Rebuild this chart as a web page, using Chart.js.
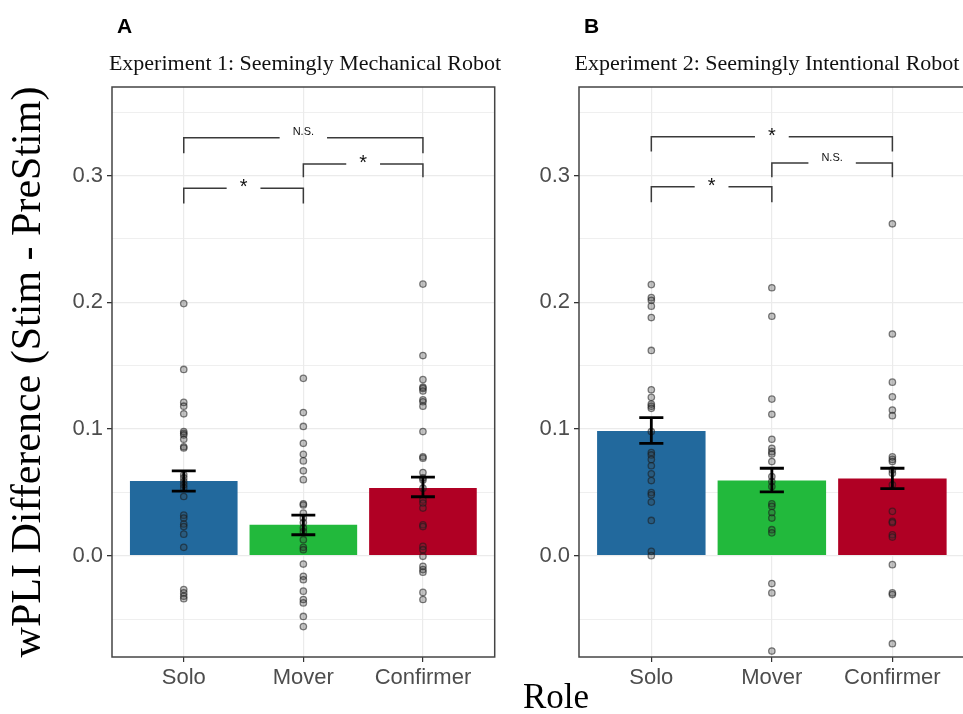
<!DOCTYPE html>
<html>
<head>
<meta charset="utf-8">
<script src="https://cdn.jsdelivr.net/npm/chart.js@4.4.0/dist/chart.umd.min.js"></script>
<style>
body{margin:0;background:#fff;width:963px;height:714px;overflow:hidden;position:relative;font-family:'Liberation Sans',Arial,sans-serif;}
canvas{position:absolute;top:0;}
#c1{left:0;}
#c2{left:500px;}
.tag{position:absolute;top:15px;font-weight:bold;font-size:21px;line-height:21px;color:#000;}
.ptitle{position:absolute;top:52px;font-family:'Liberation Serif','Times New Roman',serif;font-size:22px;line-height:22px;color:#111;text-align:center;white-space:nowrap;}
#role{position:absolute;left:456px;width:200px;top:679px;text-align:center;font-family:'Liberation Serif','Times New Roman',serif;font-size:35px;line-height:35px;color:#000;}
</style>
</head>
<body>
<canvas id="c1" width="500" height="714"></canvas>
<canvas id="c2" width="470" height="714"></canvas>
<div class="tag" style="left:117px">A</div>
<div class="tag" style="left:584px">B</div>
<div class="ptitle" style="left:105px;width:400px">Experiment 1: Seemingly Mechanical Robot</div>
<div class="ptitle" style="left:567px;width:400px">Experiment 2: Seemingly Intentional Robot</div>
<div id="role">Role</div>
<script>
var roles = ['Solo', 'Mover', 'Confirmer'];
var yTickValues = [-0.05, 0, 0.05, 0.1, 0.15, 0.2, 0.25, 0.3, 0.35];
var barColors = ['#22699d', '#22b93c', '#b00024'];

// Experiment 1
var exp1Means = [0.059, 0.0245, 0.0535];
var exp1Low = [0.051, 0.0165, 0.0465];
var exp1High = [0.067, 0.032, 0.062];
var exp1Solo = [0.199, 0.147, 0.121, 0.118, 0.112, 0.098, 0.0966, 0.0953, 0.0919, 0.086, 0.085, 0.0638, 0.0614, 0.0585, 0.056, 0.0535, 0.0467, 0.032, 0.0297, 0.025, 0.023, 0.017, 0.0066, -0.0268, -0.0294, -0.032, -0.034];
var exp1Mover = [0.140, 0.113, 0.102, 0.0887, 0.080, 0.0748, 0.067, 0.060, 0.041, 0.040, 0.0336, 0.0297, 0.0262, 0.0218, 0.019, 0.0126, 0.0066, 0.0047, -0.0066, -0.0163, -0.019, -0.028, -0.0346, -0.0373, -0.048, -0.056];
var exp1Confirmer = [0.2144, 0.158, 0.139, 0.133, 0.132, 0.130, 0.123, 0.1215, 0.118, 0.098, 0.078, 0.077, 0.0656, 0.0614, 0.0598, 0.0533, 0.044, 0.0415, 0.0376, 0.0244, 0.023, 0.0073, 0.0047, -0.0005, -0.0084, -0.011, -0.013, -0.029, -0.0346];
var exp1BracketFrom = [1, 2, 1];
var exp1BracketTo = [2, 3, 3];
var exp1BracketY = [0.290, 0.3092, 0.330];
var exp1BracketTip = [0.278, 0.2987, 0.3176];
var exp1BracketText = ['*', '*', 'N.S.'];

// Experiment 2
var exp2Means = [0.0985, 0.0593, 0.061];
var exp2Low = [0.0887, 0.0504, 0.053];
var exp2High = [0.109, 0.069, 0.069];
var exp2Solo = [0.214, 0.2037, 0.2016, 0.197, 0.188, 0.162, 0.131, 0.125, 0.1197, 0.118, 0.1163, 0.098, 0.0814, 0.0795, 0.076, 0.071, 0.0646, 0.0593, 0.0498, 0.048, 0.0423, 0.0278, 0.0034, 0.0];
var exp2Mover = [0.2115, 0.189, 0.1236, 0.1116, 0.0919, 0.0848, 0.0821, 0.0803, 0.0743, 0.0625, 0.0585, 0.0546, 0.041, 0.039, 0.034, 0.0297, 0.0205, 0.018, -0.022, -0.0294, -0.0753];
var exp2Confirmer = [0.262, 0.175, 0.137, 0.1254, 0.115, 0.1105, 0.078, 0.076, 0.0743, 0.0677, 0.065, 0.056, 0.035, 0.027, 0.026, 0.0165, 0.0147, -0.0071, -0.0294, -0.0307, -0.0695];
var exp2BracketFrom = [1, 2, 1];
var exp2BracketTo = [2, 3, 3];
var exp2BracketY = [0.2913, 0.310, 0.3307];
var exp2BracketTip = [0.279, 0.2987, 0.319];
var exp2BracketText = ['*', 'N.S.', '*'];

function isMajor(v) {
    return Math.abs(Math.round(v * 100)) % 10 === 0;
}

//error bars, significance brackets and panel border
function makeExtras(low, high, from, to, ys, tips, texts) {
    return {
        id: 'extras',
        afterDatasetsDraw: function (chart) {
            var ctx = chart.ctx, xs = chart.scales.x, yScale = chart.scales.y, a = chart.chartArea;
            ctx.save();
            ctx.strokeStyle = '#000';
            ctx.lineWidth = 2.8;
            for (var i = 0; i < low.length; i++) {
                var x = xs.getPixelForValue(i + 1);
                var half = xs.getPixelForValue(i + 1.1) - x;
                var y1 = yScale.getPixelForValue(low[i]);
                var y2 = yScale.getPixelForValue(high[i]);
                ctx.beginPath();
                ctx.moveTo(x - half, y1); ctx.lineTo(x + half, y1);
                ctx.moveTo(x, y1); ctx.lineTo(x, y2);
                ctx.moveTo(x - half, y2); ctx.lineTo(x + half, y2);
                ctx.stroke();
            }

            ctx.strokeStyle = '#3a3a3a';
            ctx.lineWidth = 1.5;
            ctx.fillStyle = '#111';
            ctx.textAlign = 'center';
            ctx.textBaseline = 'alphabetic';
            for (var j = 0; j < from.length; j++) {
                var xa = xs.getPixelForValue(from[j]);
                var xb = xs.getPixelForValue(to[j]);
                var yy = yScale.getPixelForValue(ys[j]);
                var yt = yScale.getPixelForValue(tips[j]);
                var mid = (xa + xb) / 2;
                var star = texts[j] === '*';
                ctx.font = star ? '20px "Liberation Sans", Arial, sans-serif' : '11px "Liberation Sans", Arial, sans-serif';
                var gap = (ctx.measureText(texts[j]).width + 26) / 2;
                ctx.beginPath();
                ctx.moveTo(xa, yt); ctx.lineTo(xa, yy); ctx.lineTo(mid - gap, yy);
                ctx.moveTo(mid + gap, yy); ctx.lineTo(xb, yy); ctx.lineTo(xb, yt);
                ctx.stroke();
                ctx.fillText(texts[j], mid, star ? yy + 5 : yy - 2.5);
            }

            ctx.strokeStyle = '#444';
            ctx.lineWidth = 1.5;
            ctx.strokeRect(a.left, a.top, a.right - a.left, a.bottom - a.top);
            ctx.restore();
        }
    };
}

function draw(canvasId, means, pointSets, yWidth, padLeft, padRight, showTitle, extras) {
    var bars = means.map(function (m, i) { return {x: i + 1, y: m}; });
    var points = [];
    pointSets.forEach(function (set, i) {
        set.forEach(function (v) { points.push({x: i + 1, y: v}); });
    });

    return new Chart(document.getElementById(canvasId).getContext('2d'), {
        type: 'scatter',
        data: {
            datasets: [{
                type: 'bar',
                data: bars,
                backgroundColor: barColors,
                borderWidth: 0,
                barPercentage: 0.9,
                categoryPercentage: 1,
                order: 2
            }, {
                type: 'scatter',
                data: points,
                pointRadius: 3.2,
                pointBackgroundColor: 'rgba(60,60,60,0.3)',
                pointBorderColor: 'rgba(25,25,25,0.55)',
                pointBorderWidth: 1.3,
                order: 1
            }]
        },
        options: {
            responsive: false,
            animation: false,
            layout: {padding: {top: 87, left: padLeft, right: padRight, bottom: 0}},
            plugins: {legend: {display: false}, tooltip: {enabled: false}},
            scales: {
                x: {
                    type: 'linear',
                    min: 0.4,
                    max: 3.6,
                    offset: false,
                    afterBuildTicks: function (s) { s.ticks = roles.map(function (r, i) { return {value: i + 1}; }); },
                    afterFit: function (s) { s.height = 57; },
                    ticks: {
                        callback: function (v) { return roles[v - 1]; },
                        font: {family: '"Liberation Sans", Arial, sans-serif', size: 22},
                        color: '#4d4d4d',
                        padding: 3,
                        maxRotation: 0,
                        autoSkip: false
                    },
                    grid: {color: '#ebebeb', lineWidth: 1.2, tickLength: 5, tickColor: '#333', offset: false},
                    border: {display: false}
                },
                y: {
                    min: -0.08,
                    max: 0.37,
                    afterBuildTicks: function (s) { s.ticks = yTickValues.map(function (v) { return {value: v}; }); },
                    afterFit: function (s) { s.width = yWidth; },
                    ticks: {
                        callback: function (v) { return isMajor(v) ? v.toFixed(1) : ''; },
                        font: {family: '"Liberation Sans", Arial, sans-serif', size: 22},
                        color: '#4d4d4d',
                        padding: 4,
                        autoSkip: false
                    },
                    grid: {
                        color: '#ebebeb',
                        lineWidth: function (c) { return c.tick && isMajor(c.tick.value) ? 1.3 : 0.8; },
                        tickLength: 5,
                        tickColor: function (c) { return c.tick && isMajor(c.tick.value) ? '#333' : 'rgba(0,0,0,0)'; }
                    },
                    border: {display: false},
                    title: {
                        display: showTitle,
                        text: 'wPLI Difference (Stim - PreStim)',
                        font: {family: '"Liberation Serif", "Times New Roman", serif', size: 42},
                        color: '#000',
                        padding: {top: 0, bottom: 0}
                    }
                }
            }
        },
        plugins: [extras]
    });
}

draw('c1', exp1Means, [exp1Solo, exp1Mover, exp1Confirmer], 108, 4, 5, true,
    makeExtras(exp1Low, exp1High, exp1BracketFrom, exp1BracketTo, exp1BracketY, exp1BracketTip, exp1BracketText));
draw('c2', exp2Means, [exp2Solo, exp2Mover, exp2Confirmer], 79, 0, 0, false,
    makeExtras(exp2Low, exp2High, exp2BracketFrom, exp2BracketTo, exp2BracketY, exp2BracketTip, exp2BracketText));
</script>
</body>
</html>
